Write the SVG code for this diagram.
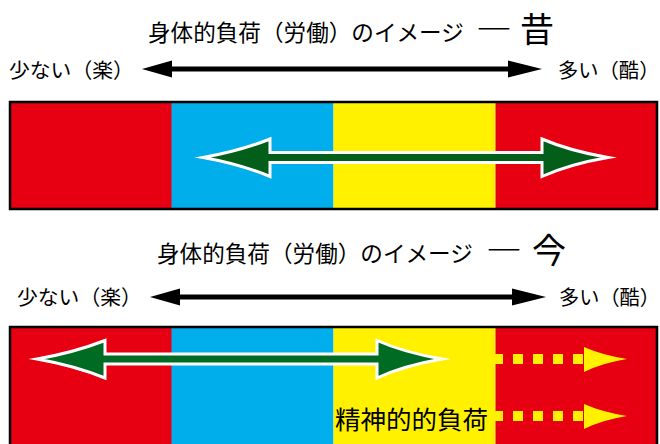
<svg xmlns="http://www.w3.org/2000/svg" width="660" height="444" viewBox="0 0 660 444">
<style>
  .t { font-family: "Noto Sans CJK JP", "Noto Sans", sans-serif; fill: #000; }
  .dash { font-weight: bold; }
  .red { fill: #E60012; }
  .blue { fill: #00AEEB; }
  .yel { fill: #FFF100; }
  .frame { fill: none; stroke: #000; stroke-width: 2.5; }
  .blk { fill: #000; }
  .shaft { stroke: #000; stroke-width: 5; }
  .garrow { stroke: #fff; stroke-width: 3; stroke-linejoin: miter; stroke-miterlimit: 10; }
  .dots { stroke: #FFF100; stroke-width: 10; stroke-dasharray: 10 10; fill: none; }
</style>
<rect width="660" height="444" fill="#fff"/>

<g id="title1">
  <text class="t" x="148" y="41" font-size="22.6">身体的負荷（労働）のイメージ</text>
  <text class="t dash" x="476" y="42" font-size="34" textLength="36" lengthAdjust="spacingAndGlyphs">―</text>
  <text class="t" x="520" y="42" font-size="34">昔</text>
</g>
<g id="labels1">
  <text class="t" x="9" y="77.5" font-size="20.8">少ない（楽）</text>
  <text class="t" x="558" y="77.5" font-size="20.3">多い（酷）</text>
</g>

<g id="bar1">
  <rect class="red" x="10" y="102" width="162" height="107"/>
  <rect class="blue" x="171.5" y="102" width="162" height="107"/>
  <rect class="yel" x="333.5" y="102" width="162" height="107"/>
  <rect class="red" x="495.5" y="102" width="162" height="107"/>
  <rect class="frame" x="10" y="102" width="647" height="107"/>
</g>

<g id="title2">
  <text class="t" x="157" y="262" font-size="22.6">身体的負荷（労働）のイメージ</text>
  <text class="t dash" x="486" y="263" font-size="34" textLength="36" lengthAdjust="spacingAndGlyphs">―</text>
  <text class="t" x="532" y="263" font-size="34">今</text>
</g>
<g id="labels2">
  <text class="t" x="17" y="305" font-size="20.8">少ない（楽）</text>
  <text class="t" x="559" y="305" font-size="20.2">多い（酷）</text>
</g>

<g id="bar2">
  <rect class="red" x="10" y="327" width="162" height="130"/>
  <rect class="blue" x="171.5" y="327" width="162" height="130"/>
  <rect class="yel" x="333.5" y="327" width="162" height="130"/>
  <rect class="red" x="495.5" y="327" width="162" height="130"/>
  <rect class="frame" x="10" y="327" width="647" height="130"/>
  <text id="mental" class="t" x="335" y="429" font-size="25.5">精神的的負荷</text>
</g>

<g id="connectors">
  <!-- row 1 scale arrow -->
  <line class="shaft" x1="165" y1="69" x2="515" y2="69"/>
  <polygon class="blk" points="142,69 172,60.5 172,77.5"/>
  <polygon class="blk" points="542,69 508,60.5 508,77.5"/>
  <!-- row 2 scale arrow -->
  <line class="shaft" x1="172" y1="297" x2="520" y2="297"/>
  <polygon class="blk" points="150,297 180,288.5 180,305.5"/>
  <polygon class="blk" points="546,297 512,288.5 512,305.5"/>

  <!-- green arrow top -->
  <path class="garrow" fill="#035E1A" d="M203,157.5 Q240,151 270,139 L270,152.5 L542,152.5 L542,139 Q570,151 608,157.5 Q570,164 542,176.5 L542,162.5 L270,162.5 L270,176.5 Q240,164 203,157.5 Z"/>
  <!-- green arrow bottom -->
  <path class="garrow" fill="#006B22" d="M37,359 Q74,352.5 105,340.5 L105,354 L377,354 L377,340.5 Q404,352.5 442,359 Q404,365.5 377,378 L377,364 L105,364 L105,378 Q74,365.5 37,359 Z"/>

  <!-- yellow dotted arrows -->
  <line class="dots" x1="493" y1="359" x2="584" y2="359"/>
  <path class="yel" d="M584,347 Q602,355 627,359 Q602,363 584,372 Z"/>
  <line class="dots" x1="493" y1="416" x2="584" y2="416"/>
  <path class="yel" d="M584,404 Q602,412 627,416 Q602,420 584,429 Z"/>
</g>
</svg>
